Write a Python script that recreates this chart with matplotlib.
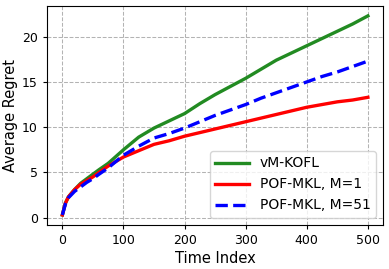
import matplotlib

matplotlib.use("Agg")

import matplotlib.pyplot as plt

# time index and average regret
t = [0, 5, 10, 20, 30, 40, 50, 60, 75, 100, 125, 150, 175, 200, 225,
     250, 275, 300, 325, 350, 375, 400, 425, 450, 475, 500]
vm_kofl = [0.3, 1.6, 2.3, 3.1, 3.8, 4.3, 4.8, 5.3, 6.0, 7.5, 8.9, 9.9,
           10.7, 11.5, 12.6, 13.6, 14.5, 15.4, 16.4, 17.4, 18.2, 19.0,
           19.8, 20.6, 21.4, 22.3]
pof_m1 = [0.3, 1.6, 2.3, 3.1, 3.7, 4.1, 4.5, 5.0, 5.7, 6.7, 7.4, 8.1,
          8.5, 9.0, 9.4, 9.8, 10.2, 10.6, 11.0, 11.4, 11.8, 12.2, 12.5,
          12.8, 13.0, 13.3]
pof_m51 = [0.3, 1.5, 2.2, 2.9, 3.4, 3.9, 4.3, 4.8, 5.5, 6.9, 7.9, 8.8,
           9.3, 9.9, 10.6, 11.3, 11.9, 12.5, 13.2, 13.8, 14.4, 15.0, 15.6,
           16.1, 16.7, 17.3]

fig, ax = plt.subplots(figsize=(3.89, 2.69), dpi=100)
fig.subplots_adjust(left=0.121, right=0.985, top=0.978, bottom=0.164)

ax.plot(t, vm_kofl, color="forestgreen", lw=2.4, label="vM-KOFL")
ax.plot(t, pof_m1, color="red", lw=2.4, label="POF-MKL, M=1")
ax.plot(t, pof_m51, color="blue", lw=2.4, ls="--", label="POF-MKL, M=51")

ax.set_xlabel("Time Index", fontsize=10.5, labelpad=3)
ax.set_ylabel("Average Regret", fontsize=10.5, labelpad=3)
ax.set_xticks([0, 100, 200, 300, 400, 500])
ax.set_yticks([0, 5, 10, 15, 20])
ax.tick_params(labelsize=9, length=3)
ax.grid(True, ls="--", color="0.7", lw=0.75)
ax.legend(loc="lower right", fontsize=10, handlelength=2.4)

fig.savefig("out.png", dpi=100)
